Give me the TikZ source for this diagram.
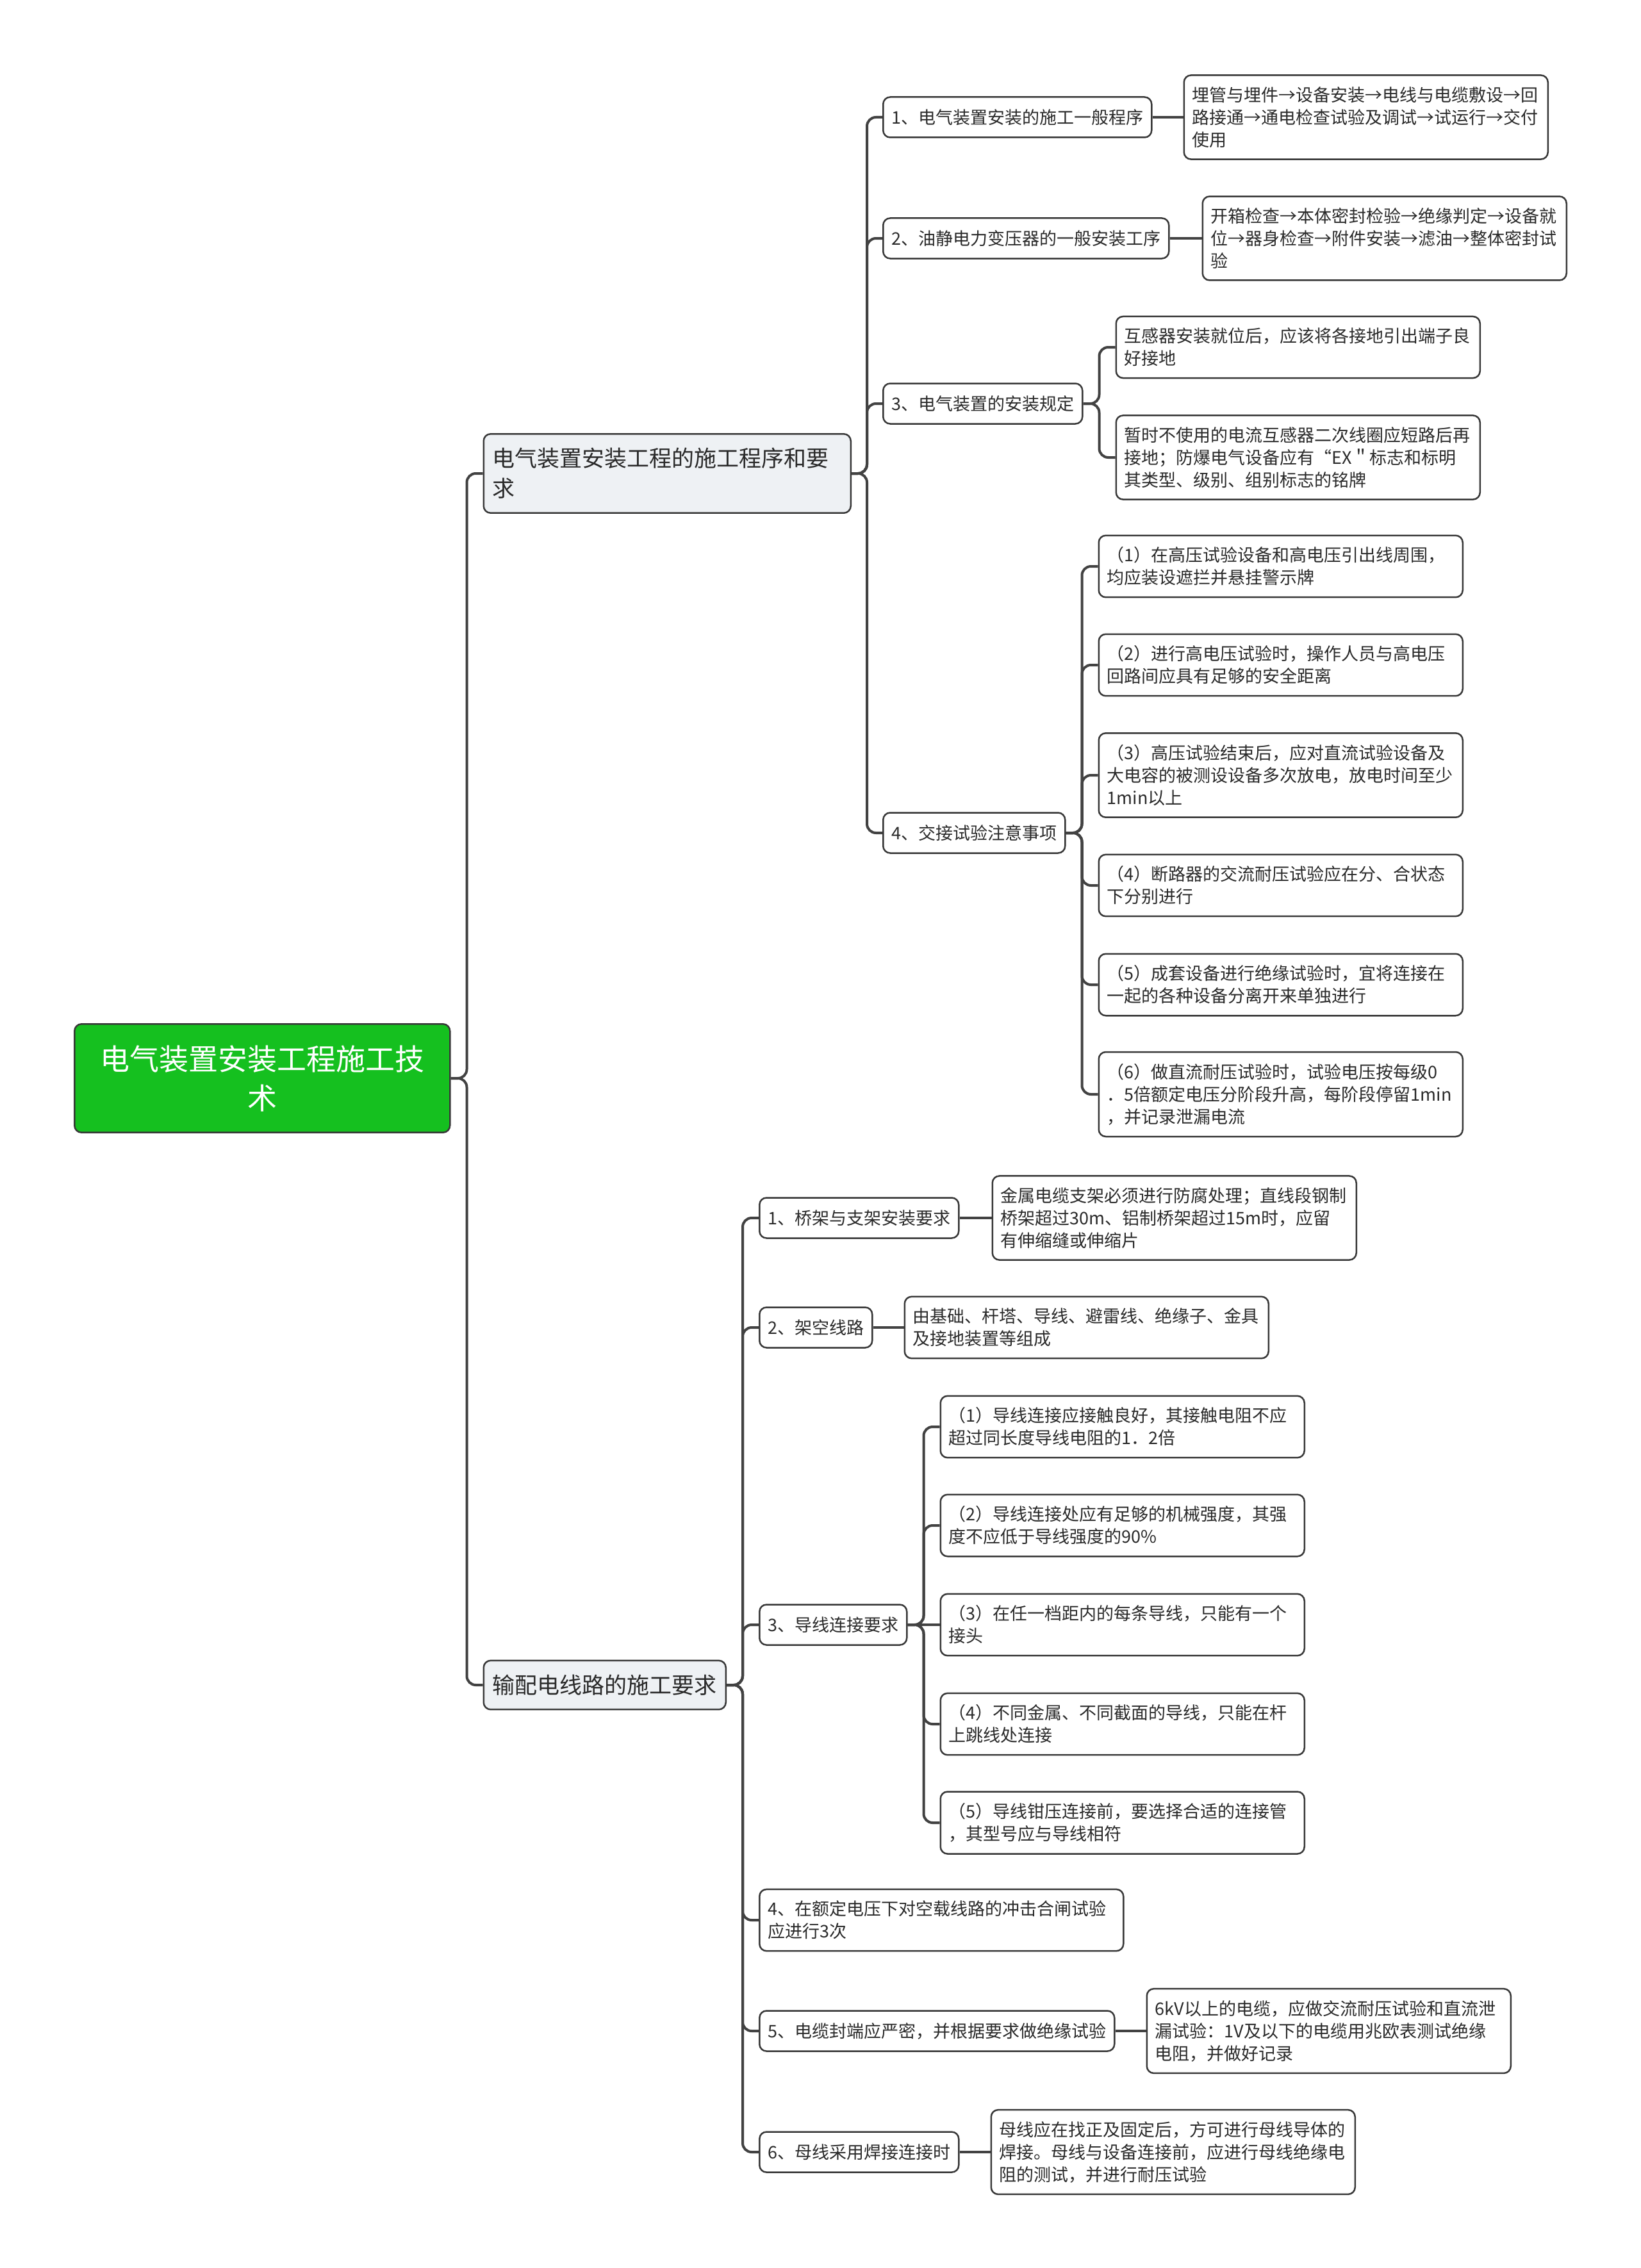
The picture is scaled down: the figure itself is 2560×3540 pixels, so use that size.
\documentclass[tikz,border=0pt]{standalone}
\usepackage{fontspec}
\setmainfont{Noto Sans CJK SC}
\usepackage{xcolor}
\definecolor{rootgreen}{HTML}{15C01F}
\definecolor{topicgray}{HTML}{EEF1F4}
\definecolor{edgegray}{HTML}{383838}
\definecolor{linegray}{HTML}{424242}
\definecolor{inkgray}{HTML}{2A2A2A}
\usepackage{tikz}
\usetikzlibrary{positioning, calc}

\begin{document}
\begin{tikzpicture}[x=1pt, y=1pt]
    \tikzstyle{rootnode} = [text width=506pt, align=center, inner xsep=40pt, inner ysep=33pt, rounded corners=11pt, draw=edgegray, line width=2.5pt, fill=rootgreen, text=white, font=\fontsize{46pt}{61pt}\selectfont]
    \tikzstyle{topicnode} = [minimum height=76pt, inner xsep=14pt, inner ysep=22pt, rounded corners=11pt, draw=edgegray, line width=2.5pt, fill=topicgray, text=inkgray, font=\fontsize{35pt}{47pt}\selectfont]
    \tikzstyle{itemnode} = [minimum height=63pt, inner xsep=13pt, inner ysep=18pt, rounded corners=11pt, draw=edgegray, line width=2.5pt, fill=white, text=inkgray, font=\fontsize{27pt}{35pt}\selectfont]
    \tikzstyle{textnode} = [itemnode, text width=542pt, align=left]
    \tikzstyle{link} = [line width=4pt, draw=linegray, rounded corners=14pt]

    \useasboundingbox (0,0) rectangle (2560,-3540);

    \node [rootnode, anchor=west] (root) at (115,-1683) {电气装置安装工程施工技\\术};

    \node [topicnode, anchor=west, text width=545pt, align=left] (a1) at ([xshift=50pt,yshift=944pt]root.east) {电气装置安装工程的施工程序和要\\求};
    \node [topicnode, anchor=west] (a2) at ([xshift=50pt,yshift=-947pt]root.east) {输配电线路的施工要求};

    \node [itemnode, anchor=west] (b1) at ([xshift=48pt,yshift=556pt]a1.east) {1、电气装置安装的施工一般程序};
    \node [itemnode, anchor=west] (b2) at ([xshift=48pt,yshift=367pt]a1.east) {2、油静电力变压器的一般安装工序};
    \node [itemnode, anchor=west] (b3) at ([xshift=48pt,yshift=109pt]a1.east) {3、电气装置的安装规定};
    \node [itemnode, anchor=west] (b4) at ([xshift=48pt,yshift=-561pt]a1.east) {4、交接试验注意事项};

    \node [textnode, anchor=west] (c1) at ([xshift=48pt]b1.east) {埋管与埋件→设备安装→电线与电缆敷设→回\\路接通→通电检查试验及调试→试运行→交付\\使用};
    \node [textnode, anchor=west] (c2) at ([xshift=50pt]b2.east) {开箱检查→本体密封检验→绝缘判定→设备就\\位→器身检查→附件安装→滤油→整体密封试\\验};

    \node [textnode, anchor=west] (c3a) at ([xshift=50pt,yshift=88pt]b3.east) {互感器安装就位后，应该将各接地引出端子良\\好接地};
    \node [textnode, anchor=west] (c3b) at ([xshift=50pt,yshift=-84pt]b3.east) {暂时不使用的电流互感器二次线圈应短路后再\\接地；防爆电气设备应有“EX＂标志和标明\\其类型、级别、组别标志的铭牌};

    \node [textnode, anchor=west] (c41) at ([xshift=50pt,yshift=416pt]b4.east) {（1）在高压试验设备和高电压引出线周围，\\均应装设遮拦并悬挂警示牌};
    \node [textnode, anchor=west] (c42) at ([xshift=50pt,yshift=262pt]b4.east) {（2）进行高电压试验时，操作人员与高电压\\回路间应具有足够的安全距离};
    \node [textnode, anchor=west] (c43) at ([xshift=50pt,yshift=90pt]b4.east) {（3）高压试验结束后，应对直流试验设备及\\大电容的被测设设备多次放电，放电时间至少\\1min以上};
    \node [textnode, anchor=west] (c44) at ([xshift=50pt,yshift=-82pt]b4.east) {（4）断路器的交流耐压试验应在分、合状态\\下分别进行};
    \node [textnode, anchor=west] (c45) at ([xshift=50pt,yshift=-237pt]b4.east) {（5）成套设备进行绝缘试验时，宜将连接在\\一起的各种设备分离开来单独进行};
    \node [textnode, anchor=west] (c46) at ([xshift=50pt,yshift=-408pt]b4.east) {（6）做直流耐压试验时，试验电压按每级0\\．5倍额定电压分阶段升高，每阶段停留1min\\，并记录泄漏电流};

    \node [itemnode, anchor=west] (d1) at ([xshift=50pt,yshift=729pt]a2.east) {1、桥架与支架安装要求};
    \node [itemnode, anchor=west] (d2) at ([xshift=50pt,yshift=558pt]a2.east) {2、架空线路};
    \node [itemnode, anchor=west] (d3) at ([xshift=50pt,yshift=94pt]a2.east) {3、导线连接要求};
    \node [textnode, anchor=west] (d4) at ([xshift=50pt,yshift=-367pt]a2.east) {4、在额定电压下对空载线路的冲击合闸试验\\应进行3次};
    \node [itemnode, anchor=west] (d5) at ([xshift=50pt,yshift=-540pt]a2.east) {5、电缆封端应严密，并根据要求做绝缘试验};
    \node [itemnode, anchor=west] (d6) at ([xshift=50pt,yshift=-729pt]a2.east) {6、母线采用焊接连接时};

    \node [textnode, anchor=west] (e1) at ([xshift=50pt]d1.east) {金属电缆支架必须进行防腐处理；直线段钢制\\桥架超过30m、铝制桥架超过15m时，应留\\有伸缩缝或伸缩片};
    \node [textnode, anchor=west] (e2) at ([xshift=48pt]d2.east) {由基础、杆塔、导线、避雷线、绝缘子、金具\\及接地装置等组成};

    \node [textnode, anchor=west] (f1) at ([xshift=50pt,yshift=309pt]d3.east) {（1）导线连接应接触良好，其接触电阻不应\\超过同长度导线电阻的1．2倍};
    \node [textnode, anchor=west] (f2) at ([xshift=50pt,yshift=155pt]d3.east) {（2）导线连接处应有足够的机械强度，其强\\度不应低于导线强度的90\%};
    \node [textnode, anchor=west] (f3) at ([xshift=50pt]d3.east) {（3）在任一档距内的每条导线，只能有一个\\接头};
    \node [textnode, anchor=west] (f4) at ([xshift=50pt,yshift=-155pt]d3.east) {（4）不同金属、不同截面的导线，只能在杆\\上跳线处连接};
    \node [textnode, anchor=west] (f5) at ([xshift=50pt,yshift=-309pt]d3.east) {（5）导线钳压连接前，要选择合适的连接管\\，其型号应与导线相符};

    \node [textnode, anchor=west] (e5) at ([xshift=48pt]d5.east) {6kV以上的电缆，应做交流耐压试验和直流泄\\漏试验：1V及以下的电缆用兆欧表测试绝缘\\电阻，并做好记录};
    \node [textnode, anchor=west] (e6) at ([xshift=48pt]d6.east) {母线应在找正及固定后，方可进行母线导体的\\焊接。母线与设备连接前，应进行母线绝缘电\\阻的测试，并进行耐压试验};

    \draw [link] (root.east) -- ++(25pt,0) |- (a1.west);
    \draw [link] (root.east) -- ++(25pt,0) |- (a2.west);

    \foreach \kid in {b1,b2,b3,b4}
        \draw [link] (a1.east) -- ++(24pt,0) |- (\kid.west);
    \draw [link] (b1.east) -- (c1.west);
    \draw [link] (b2.east) -- (c2.west);
    \foreach \kid in {c3a,c3b}
        \draw [link] (b3.east) -- ++(25pt,0) |- (\kid.west);
    \foreach \kid in {c41,c42,c43,c44,c45,c46}
        \draw [link] (b4.east) -- ++(25pt,0) |- (\kid.west);

    \foreach \kid in {d1,d2,d3,d4,d5,d6}
        \draw [link] (a2.east) -- ++(25pt,0) |- (\kid.west);
    \draw [link] (d1.east) -- (e1.west);
    \draw [link] (d2.east) -- (e2.west);
    \foreach \kid in {f1,f2,f4,f5}
        \draw [link] (d3.east) -- ++(25pt,0) |- (\kid.west);
    \draw [link] (d3.east) -- (f3.west);
    \draw [link] (d5.east) -- (e5.west);
    \draw [link] (d6.east) -- (e6.west);

\end{tikzpicture}
\end{document}
